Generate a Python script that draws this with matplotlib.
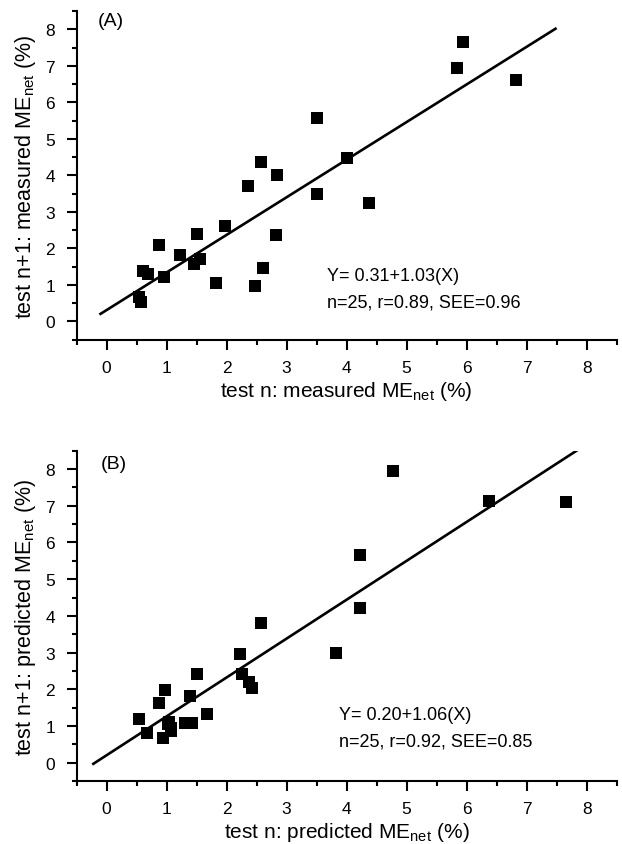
import numpy as np
import matplotlib
matplotlib.use("Agg")
import matplotlib.pyplot as plt
from matplotlib.ticker import MultipleLocator

plt.rcParams['font.family'] = ['Liberation Sans', 'DejaVu Sans']
plt.rcParams['mathtext.default'] = 'regular'

# panel A: measured ME_net, test n vs test n+1
a_x = [5.94, 5.84, 6.82, 3.50, 4.00, 2.58, 2.84, 2.36, 3.51, 4.37, 1.97, 1.50, 2.83,
       0.87, 1.22, 1.55, 1.46, 0.61, 0.69, 0.955, 2.60, 1.82, 2.48, 0.54, 0.57]
a_y = [7.66, 6.95, 6.60, 5.57, 4.48, 4.37, 4.00, 3.70, 3.50, 3.25, 2.60, 2.40, 2.37,
       2.08, 1.81, 1.70, 1.56, 1.38, 1.29, 1.23, 1.45, 1.06, 0.96, 0.67, 0.53]
a_fit = (0.31, 1.03)
a_range = (-0.1, 7.48)
a_text = ["Y= 0.31+1.03(X)", "n=25, r=0.89, SEE=0.96"]

# panel B: predicted ME_net, test n vs test n+1
b_x = [4.77, 6.37, 7.66, 4.23, 4.23, 2.58, 3.82, 2.23, 1.51, 2.26, 2.38, 2.42, 0.97,
       1.39, 0.88, 1.67, 0.54, 1.04, 1.30, 1.42, 1.07, 0.67, 0.94, 1.02, 1.08]
b_y = [7.94, 7.12, 7.09, 5.65, 4.21, 3.81, 2.99, 2.95, 2.41, 2.41, 2.21, 2.02, 1.97,
       1.82, 1.62, 1.32, 1.18, 1.11, 1.07, 1.07, 0.95, 0.82, 0.68, 1.05, 0.87]
b_fit = (0.20, 1.06)
b_range = (-0.22, 7.9)
b_text = ["Y= 0.20+1.06(X)", "n=25, r=0.92, SEE=0.85"]


def panel(ax, xs, ys, fit, xr, txt, tag, xlab, ylab, txt_x, txt_y):
    ax.scatter(xs, ys, marker='s', s=70, color='black', zorder=3, linewidths=0)
    lx = np.array(xr)
    ax.plot(lx, fit[0] + fit[1] * lx, color='black', lw=1.9)
    ax.set_xlim(-0.5, 8.5)
    ax.set_ylim(-0.5, 8.5)
    for s in ['top', 'right']:
        ax.spines[s].set_visible(False)
    for s in ['left', 'bottom']:
        ax.spines[s].set_linewidth(1.5)
    ax.xaxis.set_major_locator(MultipleLocator(1))
    ax.xaxis.set_minor_locator(MultipleLocator(0.5))
    ax.yaxis.set_major_locator(MultipleLocator(1))
    ax.yaxis.set_minor_locator(MultipleLocator(0.5))
    ax.tick_params(which='major', direction='out', length=7.5, width=1.5,
                   labelsize=12.5)
    ax.tick_params(axis='x', which='major', pad=7)
    ax.tick_params(axis='y', which='major', pad=8)
    ax.tick_params(which='minor', direction='out', length=3.8, width=1.5)
    ax.set_xlabel(xlab, fontsize=15, labelpad=3)
    ax.set_ylabel(ylab, fontsize=15.5, labelpad=5)
    ax.text(txt_x, txt_y, txt[0], fontsize=13, va='center')
    ax.text(txt_x, txt_y - 0.74, txt[1], fontsize=13, va='center')
    ax.text(tag[1], tag[2], tag[0], fontsize=14, va='center')


fig = plt.figure(figsize=(6.22, 8.45), dpi=100)
ax1 = fig.add_axes([0.123, 0.5968, 0.8685, 0.389])
ax2 = fig.add_axes([0.123, 0.0746, 0.8685, 0.3908])

panel(ax1, a_x, a_y, a_fit, a_range, a_text, ("(A)", -0.15, 8.25),
      r'test n: measured ME$_{net}$ (%)', r'test n+1: measured ME$_{net}$ (%)',
      3.67, 1.27)
panel(ax2, b_x, b_y, b_fit, b_range, b_text, ("(B)", -0.09, 8.16),
      r'test n: predicted ME$_{net}$ (%)', r'test n+1: predicted ME$_{net}$ (%)',
      3.88, 1.32)

fig.savefig("out.png", dpi=100)
